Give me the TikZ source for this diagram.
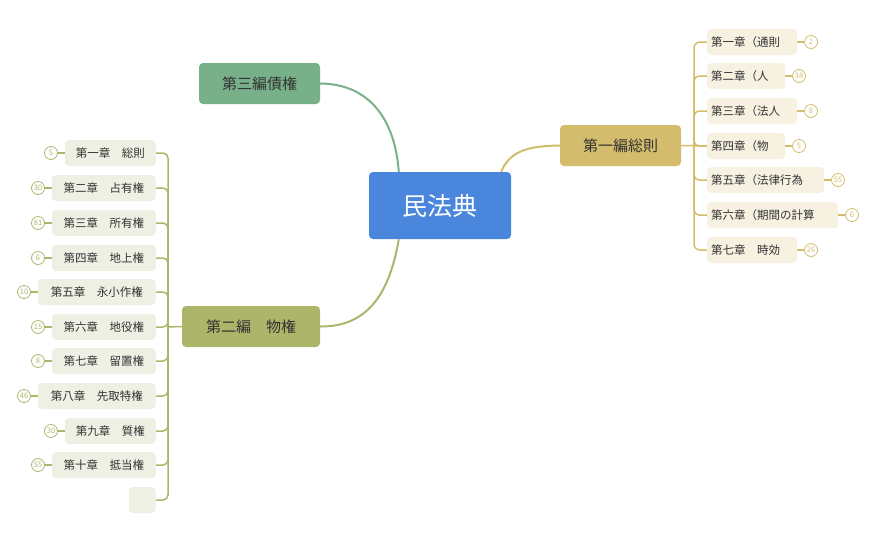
\documentclass[tikz,border=0pt]{standalone}
\usepackage{fontspec}
\setmainfont{Noto Sans CJK JP}
\definecolor{rootc}{HTML}{4A86DB}
\definecolor{goldc}{HTML}{D3BC6B}
\definecolor{greenc}{HTML}{78B08A}
\definecolor{olivec}{HTML}{ADB56A}
\definecolor{goldf}{HTML}{F6F1E1}
\definecolor{olivef}{HTML}{EEF0E3}
\definecolor{txt}{HTML}{333333}
\begin{document}
\begin{tikzpicture}[x=1pt,y=-1pt,
 box/.style={rounded corners=4pt,inner sep=0pt,text=txt},
 gch/.style={box,fill=goldf,minimum height=26pt,font=\fontsize{11.5}{12}\selectfont,anchor=west},
 och/.style={box,fill=olivef,minimum height=26pt,font=\fontsize{11.5}{12}\selectfont,anchor=east},
 gb/.style={circle,draw=goldc,line width=0.8pt,fill=white,inner sep=0pt,minimum size=13pt,text=goldc,font=\fontsize{7.5}{8}\selectfont},
 ob/.style={circle,draw=olivec,line width=0.8pt,fill=white,inner sep=0pt,minimum size=13pt,text=olivec,font=\fontsize{7.5}{8}\selectfont},
 gl/.style={draw=goldc,line width=1.5pt},
 ol/.style={draw=olivec,line width=1.5pt}]
\useasboundingbox (0,0) rectangle (876,542);
% main nodes
\node[box,fill=rootc,text=white,minimum width=142pt,minimum height=67pt,font=\fontsize{25}{26}\selectfont] (root) at (440,205.5) {民法典};
\node[box,fill=goldc,minimum width=121pt,minimum height=41pt,font=\fontsize{15}{16}\selectfont] (b1) at (620.5,145.5) {第一編総則};
\node[box,fill=greenc,minimum width=121pt,minimum height=41pt,font=\fontsize{15}{16}\selectfont] (b3) at (259.5,83.5) {第三編債権};
\node[box,fill=olivec,minimum width=138pt,minimum height=41pt,font=\fontsize{15}{16}\selectfont] (b2) at (251,326.5) {第二編\hspace{1em}物権};
\draw[gl,line width=2pt] ([xshift=-10pt]root.north east) .. controls (510,150) and (530,146) .. (b1.west);
\draw[draw=greenc,line width=2pt] ([xshift=30pt]root.north west) .. controls (395,120) and (370,84) .. (b3.east);
\draw[ol,line width=2pt] ([xshift=30pt]root.south west) .. controls (390,290) and (370,327) .. (b2.east);
% right children
\coordinate (gs) at (694,146);
\draw[gl] (b1.east) -- (707,146);
\foreach \y/\w/\t/\n [count=\i] in {42/90/第一章（通則/2,76/78/第二章（人/38,111/90/第三章（法人/8,146/78/第四章（物/5,180/117/第五章（法律行為/55,215/131/第六章（期間の計算/6,250/90/第七章\hspace{1em}時効/26}{
 \node[gch,minimum width=\w pt,align=left,text width=\w pt-8pt,inner xsep=4pt] (g\i) at (707,\y) {\t};
 \node[gb] (gb\i) at (707+\w+14,\y) {\n};
 \draw[gl] (g\i.east) -- (gb\i.west);
}
\draw[gl,rounded corners=6pt] (g1.west) -- (694,42) -- (694,250) -- (g7.west);
\foreach \i in {2,...,6}{\draw[gl,rounded corners=5pt] (694,146) |- (g\i.west);}
% left children
\foreach \y/\w/\t/\n [count=\i] in {153/91/第一章\hspace{1em}総則/5,188/104/第二章\hspace{1em}占有権/30,223/104/第三章\hspace{1em}所有権/81,258/104/第四章\hspace{1em}地上権/6,292/118/第五章\hspace{1em}永小作権/10,327/104/第六章\hspace{1em}地役権/15,361/104/第七章\hspace{1em}留置権/8,396/118/第八章\hspace{1em}先取特権/46,431/91/第九章\hspace{1em}質権/30,465/104/第十章\hspace{1em}抵当権/55}{
 \node[och,minimum width=\w pt] (o\i) at (156,\y) {\t};
 \node[ob] (ob\i) at (156-\w-14,\y) {\n};
 \draw[ol] (o\i.west) -- (ob\i.east);
}
\node[och,minimum width=27pt] (o11) at (156,500) {};
\draw[ol] (b2.west) -- (168,327);
\foreach \i in {1,...,11}{\draw[ol,rounded corners=5pt] (168,327) |- (o\i.east);}
\end{tikzpicture}
\end{document}
